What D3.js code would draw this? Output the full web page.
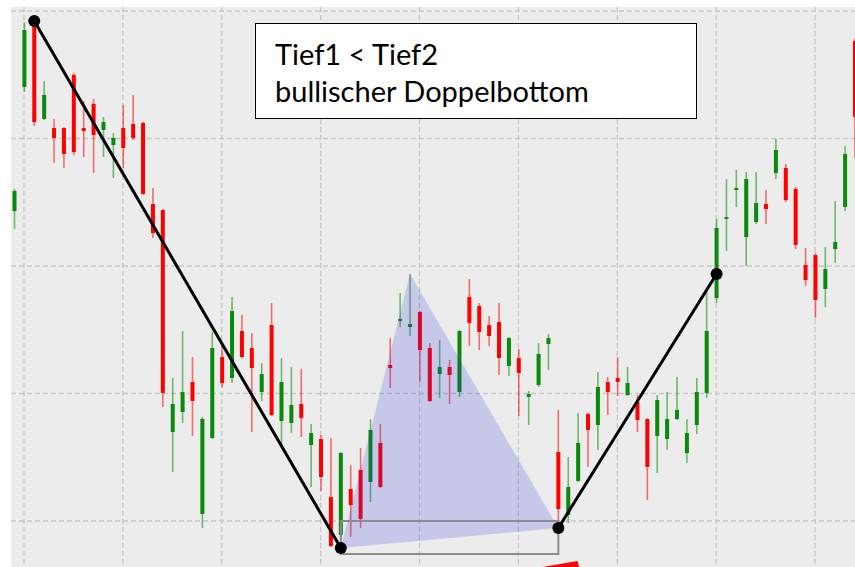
<!DOCTYPE html>
<html>
<head>
<meta charset="utf-8">
<script src="https://cdn.jsdelivr.net/npm/d3@7"></script>
<style>
  html, body { margin: 0; padding: 0; background: #ffffff; }
  svg { display: block; }
</style>
</head>
<body>
<svg id="chart" width="855" height="567"></svg>
<script>
// Candle prices, one entry per session (index = position in the arrays)
const opens = [124.31,134.04,139.14,131.53,130.82,130.82,134.98,130.82,132.71,130.67,
  129.49,130.82,131.14,131.22,124.86,124.39,106.98,108.55,110.90,100.55,
  106.51,112.86,111.22,114.90,113.57,110.12,115.37,107.84,107.69,109.18,
  105.96,106.43,101.88,98.90,102.51,104.00,103.06,106.12,112.24,115.69,
  115.22,116.39,113.57,111.53,112.08,110.12,117.57,116.86,115.37,115.61,
  112.16,112.78,109.73,110.67,113.88,105.41,100.47,103.14,108.39,107.53,
  110.90,111.22,109.88,109.33,108.00,106.67,106.43,108.00,105.33,107.53,
  110.04,117.49,123.69,125.96,122.27,123.45,124.86,127.29,127.69,126.04,
  120.08,120.86,118.20,121.33,124.63,137.65];
const closes = [125.88,138.51,131.29,133.41,130.04,128.78,128.94,130.59,130.27,131.29,
  130.04,129.25,130.04,125.65,122.59,110.04,109.18,110.12,109.41,108.00,
  113.57,110.82,116.47,112.86,112.00,111.53,108.31,110.90,109.10,108.08,
  106.90,103.45,98.04,105.33,101.25,100.16,107.14,102.67,112.00,115.84,
  115.45,113.41,109.41,112.08,111.45,114.90,115.53,114.82,114.51,112.78,
  114.35,111.61,109.96,113.10,114.35,100.94,102.67,106.12,107.14,110.51,
  110.12,110.90,110.82,107.92,104.24,109.49,108.00,108.71,106.90,110.12,
  114.90,122.98,123.84,126.12,126.82,124.94,124.47,129.10,125.18,121.65,
  118.90,117.33,119.76,121.88,128.78,131.69];
const highs = [126.04,139.10,139.22,134.51,131.53,130.90,135.14,132.94,133.10,131.69,
  130.43,132.63,133.41,131.29,126.12,124.47,111.22,114.90,112.86,108.16,
  114.82,113.96,117.57,116.16,114.75,112.39,117.10,112.78,112.08,111.92,
  107.61,106.75,106.51,105.41,104.39,105.73,108.00,107.61,114.35,117.88,
  119.37,116.47,113.96,114.20,112.63,114.98,118.98,117.10,116.08,117.10,
  114.43,113.49,110.20,113.96,114.67,108.71,105.02,108.47,108.47,111.69,
  111.29,112.86,112.08,109.88,108.08,109.88,110.12,111.29,108.00,111.22,
  118.20,123.69,126.82,127.53,127.37,127.37,125.96,129.96,128.00,126.20,
  121.41,121.02,121.49,125.10,129.41,137.88];
const lows = [122.90,133.65,130.98,131.45,128.08,127.69,128.71,128.55,127.29,128.55,
  126.90,127.69,129.88,125.57,122.20,108.94,103.84,107.69,106.67,99.45,
  106.43,110.51,110.82,112.78,106.98,109.41,108.24,105.88,106.90,106.59,
  102.67,102.35,97.96,97.88,98.75,99.45,101.49,102.59,110.43,115.22,
  114.51,110.90,109.33,109.65,109.18,109.73,113.73,113.41,113.73,111.45,
  111.37,108.24,107.53,110.51,111.84,99.45,99.84,103.06,104.24,105.57,
  108.31,109.80,109.80,106.98,101.65,103.76,105.57,107.92,104.55,106.82,
  109.65,117.10,121.18,124.63,120.00,123.29,123.29,126.82,125.02,121.33,
  118.43,115.92,116.78,120.24,124.31,128.47];

// Price levels and session indices that carry grid lines
const priceGrid = [100, 110, 120, 130, 140];
const sessionGrid = [1, 11, 21, 31, 41, 51, 61, 71, 81];

// Double-bottom pattern: peak, first low, neckline peak, second low, breakout
const peakIdx = 2, low1Idx = 33, neckIdx = 40, low2Idx = 55, breakoutIdx = 71;
// Lower edge of the measuring box under the two lows
const boxBottom = 97.41;
// Red arrow head running out of the bottom edge (session index, price)
const arrowHead = [[53.3, 96.38], [56.95, 96.86], [57.1, 96.38]];

const textLines = ["Tief1 < Tief2", "bullischer Doppelbottom"];

const svg = d3.select("#chart");
const plot = { left: 11, top: 7, right: 855, bottom: 567 };

const x = d3.scaleLinear().domain([0, 85]).range([14.5, 855]);
const y = d3.scaleLinear().domain([100, 140]).range([521, 11]);

const candles = opens.map((o, i) => ({ i, o, c: closes[i], h: highs[i], l: lows[i], up: closes[i] >= o }));

svg.append("defs").append("clipPath").attr("id", "plotClip")
  .append("rect").attr("x", plot.left).attr("y", plot.top)
  .attr("width", plot.right - plot.left).attr("height", plot.bottom - plot.top);

svg.append("rect").attr("x", plot.left).attr("y", plot.top)
  .attr("width", plot.right - plot.left).attr("height", plot.bottom - plot.top)
  .attr("fill", "#ececec");

const g = svg.append("g").attr("clip-path", "url(#plotClip)");

// dashed grid
g.append("g").selectAll("line").data(priceGrid).join("line")
  .attr("x1", plot.left).attr("x2", plot.right)
  .attr("y1", d => y(d)).attr("y2", d => y(d))
  .attr("stroke", "#c6c6c6").attr("stroke-width", 1.3).attr("stroke-dasharray", "5,3");
g.append("g").selectAll("line").data(sessionGrid).join("line")
  .attr("x1", d => x(d) - 0.4).attr("x2", d => x(d) - 0.4)
  .attr("y1", plot.top).attr("y2", plot.bottom)
  .attr("stroke", "#c6c6c6").attr("stroke-width", 1.3).attr("stroke-dasharray", "5,3");

// candlesticks
const upColor = "#0a8a0a", downColor = "#ff0000";
const cg = g.append("g").selectAll("g").data(candles).join("g");
cg.append("line")
  .attr("x1", d => x(d.i)).attr("x2", d => x(d.i))
  .attr("y1", d => y(d.h)).attr("y2", d => y(d.l))
  .attr("stroke", d => d.up ? upColor : downColor)
  .attr("stroke-opacity", 0.55).attr("stroke-width", 1.6);
cg.append("rect")
  .attr("x", d => x(d.i) - 2).attr("width", 4)
  .attr("y", d => y(Math.max(d.o, d.c)))
  .attr("height", d => Math.max(1.5, Math.abs(y(d.o) - y(d.c))))
  .attr("fill", d => d.up ? upColor : downColor);

// triangle between the two lows and the intermediate high
const tri = [[low1Idx, lows[low1Idx]], [neckIdx, highs[neckIdx]], [low2Idx, lows[low2Idx]]];
g.append("path")
  .attr("d", d3.line().x(d => x(d[0])).y(d => y(d[1]))(tri) + "Z")
  .attr("fill", "rgb(40,40,230)").attr("fill-opacity", 0.19);

// measuring box under the two lows
g.append("rect")
  .attr("x", x(low1Idx)).attr("width", x(low2Idx) - x(low1Idx))
  .attr("y", y(100)).attr("height", y(boxBottom) - y(100))
  .attr("fill", "none").attr("stroke", "#8c8c8c").attr("stroke-width", 2);

// pattern legs: decline into the first low, rally out of the second low
const legs = [
  [[peakIdx, highs[peakIdx]], [low1Idx, lows[low1Idx]]],
  [[low2Idx, lows[low2Idx]], [breakoutIdx, highs[neckIdx]]]
];
const line = d3.line().x(d => x(d[0])).y(d => y(d[1]));
g.append("g").selectAll("path").data(legs).join("path")
  .attr("d", line)
  .attr("fill", "none").attr("stroke", "#000").attr("stroke-width", 3).attr("stroke-linecap", "round");
g.append("g").selectAll("circle").data(legs.flat()).join("circle")
  .attr("cx", d => x(d[0])).attr("cy", d => y(d[1])).attr("r", 6).attr("fill", "#000");

// arrow head
g.append("path")
  .attr("d", line(arrowHead) + "Z")
  .attr("fill", "#ff0000");

// annotation box
const box = svg.append("g");
box.append("rect").attr("x", 255.5).attr("y", 23.5).attr("width", 441).attr("height", 95)
  .attr("fill", "#ffffff").attr("stroke", "#000").attr("stroke-width", 1);
box.selectAll("text").data(textLines).join("text")
  .attr("x", 275).attr("y", (d, k) => 65 + k * 37)
  .attr("font-family", "Lato, 'DejaVu Sans', sans-serif").attr("font-size", 29)
  .attr("fill", "#000").text(d => d);
</script>
</body>
</html>
